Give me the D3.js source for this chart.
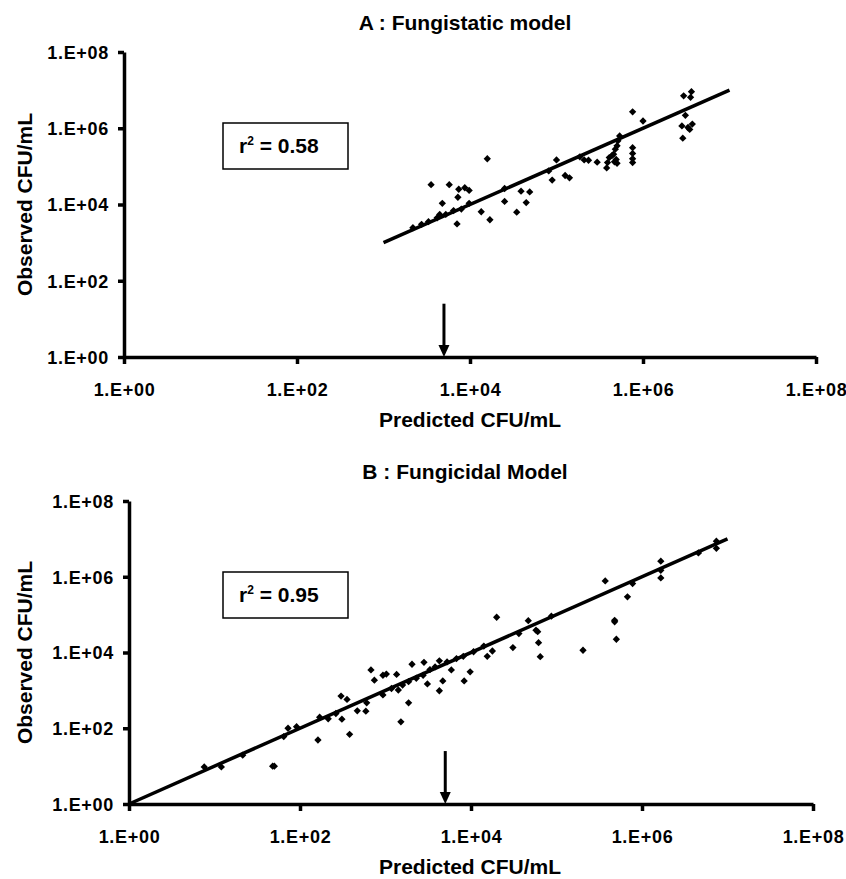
<!DOCTYPE html>
<html>
<head>
<meta charset="utf-8">
<script src="https://cdn.jsdelivr.net/npm/d3@7"></script>
<style>
  body { margin: 0; background: #fff; }
  svg text { font-family: "Liberation Sans", Arial, sans-serif; font-weight: bold; fill: #000; }
</style>
</head>
<body>
<div class="chart"></div>
<script>
// values, as log10(CFU/mL)
var aPredLog = [3.34,3.44,3.52,3.62,3.65,3.72,3.81,3.90,3.68,3.55,3.76,3.87,3.94,3.99,3.86,3.99,3.85,
  4.20,4.13,4.23,4.40,4.40,4.54,4.59,4.69,4.65,4.91,4.95,5.00,5.10,5.15,5.27,5.32,5.37,5.47,
  5.73,5.71,5.70,5.68,5.66,5.61,5.59,5.58,5.69,5.70,5.64,5.67,5.88,5.88,5.88,5.88,5.88,6.00,
  6.47,6.56,6.55,6.49,6.45,6.52,6.57,6.54,6.46];
var aObsLog = [3.39,3.48,3.55,3.65,3.74,3.74,3.84,3.88,4.03,4.52,4.52,4.40,4.44,4.37,4.19,4.03,3.49,
  5.20,3.81,3.60,4.08,4.42,3.80,4.35,4.33,4.05,4.88,4.64,5.17,4.76,4.70,5.25,5.17,5.16,5.11,
  5.80,5.67,5.54,5.45,5.32,5.23,5.10,4.96,5.18,5.08,5.28,5.12,5.49,5.34,5.20,5.10,6.43,6.19,
  6.85,6.96,6.81,6.34,6.06,6.02,6.11,5.97,5.74];

var bPredLog = [0.88,1.08,1.33,1.68,1.70,1.81,1.86,1.96,2.21,2.23,2.33,2.42,2.48,2.55,2.49,2.58,
  2.67,2.77,2.78,2.83,2.87,2.97,3.01,2.97,3.07,3.13,3.15,3.18,3.20,3.27,3.27,3.31,
  3.36,3.44,3.45,3.49,3.52,3.58,3.63,3.63,3.67,3.72,3.77,3.83,3.91,3.92,3.99,4.03,
  4.15,4.19,4.25,4.30,4.49,4.56,4.67,4.76,4.78,4.79,4.81,4.94,5.31,5.57,5.68,5.68,
  5.70,5.83,5.89,6.22,6.22,6.22,6.66,6.87,6.87];
var bObsLog = [0.98,0.98,1.29,1.00,1.00,1.78,2.00,2.04,1.69,2.29,2.25,2.39,2.85,2.76,2.24,1.84,
  2.46,2.45,2.67,3.54,3.27,3.40,3.43,2.88,3.05,3.42,3.01,2.17,3.14,2.67,3.23,3.69,
  3.32,3.40,3.74,3.17,3.55,3.62,3.78,2.99,3.25,3.75,3.54,3.84,3.90,3.25,3.49,4.02,
  4.17,3.90,4.04,4.93,4.13,4.50,4.84,4.59,4.55,4.26,3.89,4.96,4.06,5.89,4.85,4.81,
  4.35,5.47,5.82,6.41,5.97,6.17,6.63,6.94,6.75];

var tickVals = [1, 1e2, 1e4, 1e6, 1e8];
var tickLabels = ["1.E+00", "1.E+02", "1.E+04", "1.E+06", "1.E+08"];

var aFit = [1e3, 1e7];   // line of identity, start/end
var bFit = [1, 1e7];
var arrowX = 5000;       // arrow marker on x axis
var arrowY = [25, 1];

var panels = [
  { title: "A : Fungistatic model", r2: "0.58", pred: aPredLog, obs: aObsLog, fit: aFit,
    left: 124, top: 52, w: 692, h: 305 },
  { title: "B : Fungicidal Model", r2: "0.95", pred: bPredLog, obs: bObsLog, fit: bFit,
    left: 129, top: 501, w: 684, h: 303 }
];

var svg = d3.select(".chart").append("svg")
  .attr("width", 846)
  .attr("height", 879);

panels.forEach(drawPanel);

function drawPanel(p) {
  var g = svg.append("g").attr("transform", "translate(" + p.left + "," + p.top + ")");

  var x = d3.scaleLog().domain([1, 1e8]).range([0, p.w]);
  var y = d3.scaleLog().domain([1, 1e8]).range([p.h, 0]);

  // title
  g.append("text")
    .attr("x", 341 - (p.left - 124))
    .attr("y", -22)
    .attr("text-anchor", "middle")
    .style("font-size", "21px")
    .text(p.title);

  // axes
  var xAxis = d3.axisBottom(x).tickValues(tickVals).tickSizeInner(7).tickSizeOuter(0)
    .tickPadding(19).tickFormat(function(d, i) { return tickLabels[i]; });
  var yAxis = d3.axisLeft(y).tickValues(tickVals).tickSizeInner(6).tickSizeOuter(0)
    .tickPadding(9).tickFormat(function(d, i) { return tickLabels[i]; });

  var gx = g.append("g").attr("transform", "translate(0," + p.h + ")").call(xAxis);
  var gy = g.append("g").call(yAxis);
  [gx, gy].forEach(function(a) {
    a.select(".domain").attr("stroke", "#000").attr("stroke-width", 3.5);
    a.selectAll(".tick line").attr("stroke", "#000").attr("stroke-width", 3.5);
    a.selectAll(".tick text").style("font-size", "18px").style("letter-spacing", "0.7px")
      .attr("fill", "#000");
  });
  gy.selectAll(".tick text").attr("dy", "0.35em");

  // axis titles
  g.append("text")
    .attr("x", 346 - (p.left - 124))
    .attr("y", p.h + 70)
    .attr("text-anchor", "middle")
    .style("font-size", "21px")
    .text("Predicted CFU/mL");

  g.append("text")
    .attr("transform", "translate(" + (32 - p.left) + "," + (p.h / 2) + ") rotate(-90)")
    .attr("text-anchor", "middle")
    .style("font-size", "21px")
    .text("Observed CFU/mL");

  // r2 box
  g.append("rect")
    .attr("x", 223 - p.left)
    .attr("y", 71)
    .attr("width", 125)
    .attr("height", 46)
    .attr("fill", "#fff")
    .attr("stroke", "#000")
    .attr("stroke-width", 1.5);
  var t = g.append("text")
    .attr("x", 239 - p.left)
    .attr("y", 101)
    .style("font-size", "21px");
  t.append("tspan").text("r");
  t.append("tspan").attr("dy", -8).style("font-size", "12px").text("2");
  t.append("tspan").attr("dy", 8).text(" = " + p.r2);

  // line of identity
  g.append("line")
    .attr("x1", x(p.fit[0])).attr("y1", y(p.fit[0]))
    .attr("x2", x(p.fit[1])).attr("y2", y(p.fit[1]))
    .attr("stroke", "#000")
    .attr("stroke-width", 3.5);

  // points
  var pts = p.pred.map(function(v, i) { return [Math.pow(10, v), Math.pow(10, p.obs[i])]; });
  g.selectAll("path.pt")
    .data(pts)
    .enter()
    .append("path")
    .attr("class", "pt")
    .attr("transform", function(d) { return "translate(" + x(d[0]) + "," + y(d[1]) + ")"; })
    .attr("d", d3.symbol().type(d3.symbolDiamond2).size(34))
    .attr("fill", "#000");

  // arrow
  var ax = x(arrowX);
  g.append("line")
    .attr("x1", ax).attr("y1", y(arrowY[0]))
    .attr("x2", ax).attr("y2", y(arrowY[1]) - 10)
    .attr("stroke", "#000")
    .attr("stroke-width", 3);
  g.append("path")
    .attr("d", "M" + (ax - 5.5) + "," + (y(arrowY[1]) - 12) + "L" + (ax + 5.5) + "," + (y(arrowY[1]) - 12)
      + "L" + ax + "," + y(arrowY[1]) + "Z")
    .attr("fill", "#000");
}
</script>
</body>
</html>
